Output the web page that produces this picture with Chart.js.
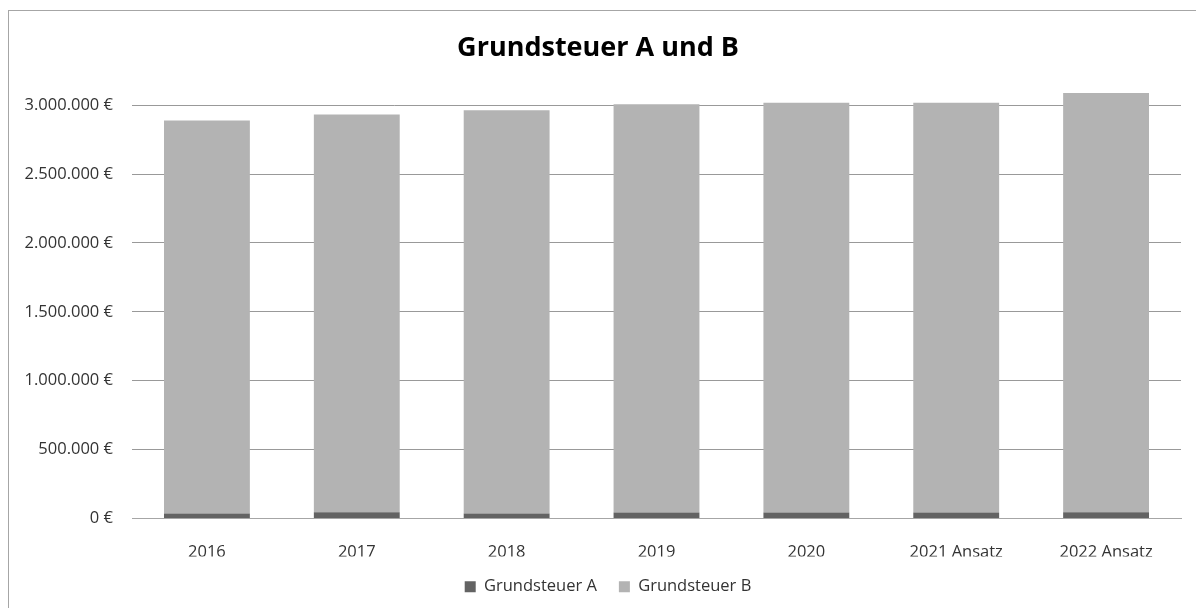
<!DOCTYPE html>
<html>
<head>
<meta charset="utf-8">
<script src="https://cdn.jsdelivr.net/npm/chart.js@4"></script>
<style>
  html, body { margin: 0; padding: 0; background: #fff; }
  #frame {
    position: absolute; left: 8px; top: 10px;
    width: 1188px; height: 598px;
    border-left: 1px solid #a6a6a6; border-top: 1px solid #a6a6a6;
  }
  #chart { display: block; }
</style>
</head>
<body>
<div id="frame"><canvas id="chart" width="1187" height="597"></canvas></div>
<script>
const years = ['2016', '2017', '2018', '2019', '2020', '2021 Ansatz', '2022 Ansatz'];
const steuerA = [36000, 46000, 36000, 44000, 44000, 44000, 46000];
const steuerB = [2852000, 2886000, 2928000, 2963000, 2973000, 2973000, 3043000];
const yTicks = [0, 500000, 1000000, 1500000, 2000000, 2500000, 3000000];

const FONT = "'Open Sans', 'DejaVu Sans', sans-serif";

function euro(v) {
  return String(Math.round(v)).replace(/\B(?=(\d{3})+(?!\d))/g, '.') + ' €';
}

// nudge the legend a bit to the right, like in the original sheet
const legendShift = {
  id: 'legendShift',
  afterLayout(chart) {
    chart.legend.left += 10;
    chart.legend.right += 10;
  }
};

new Chart(document.getElementById('chart'), {
  type: 'bar',
  data: {
    labels: years,
    datasets: [
      { label: 'Grundsteuer A', data: steuerA, backgroundColor: '#636363' },
      { label: 'Grundsteuer B', data: steuerB, backgroundColor: '#b3b3b3' },
    ]
  },
  options: {
    responsive: false,
    animation: false,
    layout: { padding: { left: 6, right: 15, top: 0, bottom: 3 } },
    datasets: { bar: { barPercentage: 0.573, categoryPercentage: 1 } },
    plugins: {
      title: {
        display: true,
        text: 'Grundsteuer A und B',
        color: '#000',
        font: { family: FONT, size: 27, weight: 'bold' },
        padding: { top: 21, bottom: 27 }
      },
      legend: {
        position: 'bottom',
        labels: {
          color: '#333',
          font: { family: FONT, size: 16.5 },
          boxWidth: 11, boxHeight: 11,
          padding: 22
        }
      },
      tooltip: { enabled: false }
    },
    scales: {
      x: {
        stacked: true,
        grid: { display: false },
        border: { display: true, color: '#a6a6a6' },
        ticks: { color: '#333', font: { family: FONT, size: 16.5 }, padding: 16 },
        afterFit(s) { s.height = 38; }
      },
      y: {
        stacked: true,
        min: 0,
        max: 3100000,
        grid: { color: '#999999', drawTicks: false },
        border: { display: false },
        ticks: {
          color: '#333',
          font: { family: FONT, size: 16.5 },
          padding: 19,
          callback: v => euro(v)
        },
        afterBuildTicks(s) { s.ticks = yTicks.map(v => ({ value: v })); },
        afterFit(s) { s.width = 117; }
      }
    }
  },
  plugins: [legendShift]
});
</script>
</body>
</html>
